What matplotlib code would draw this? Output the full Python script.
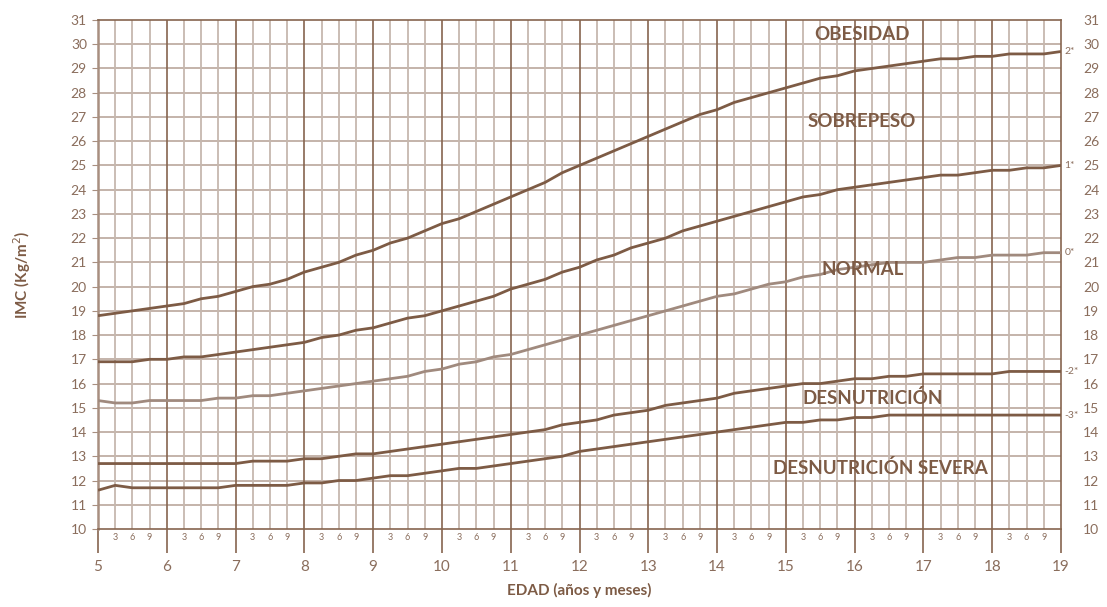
import numpy as np
import matplotlib
matplotlib.use("Agg")
import matplotlib.pyplot as plt
import matplotlib.transforms as mtransforms

plt.rcParams['font.family'] = ['Lato', 'DejaVu Sans']

# ---- data (IMC by age, quarterly from 5 to 19 years) ----
years = list(range(5, 20))
quarter_labels = ["3", "6", "9"]
ages = [5 + q / 4 for q in range(57)]

sd2 = [18.8, 18.9, 19.0, 19.1,
       19.2, 19.3, 19.5, 19.6,
       19.8, 20.0, 20.1, 20.3,
       20.6, 20.8, 21.0, 21.3,
       21.5, 21.8, 22.0, 22.3,
       22.6, 22.8, 23.1, 23.4,
       23.7, 24.0, 24.3, 24.7,
       25.0, 25.3, 25.6, 25.9,
       26.2, 26.5, 26.8, 27.1,
       27.3, 27.6, 27.8, 28.0,
       28.2, 28.4, 28.6, 28.7,
       28.9, 29.0, 29.1, 29.2,
       29.3, 29.4, 29.4, 29.5,
       29.5, 29.6, 29.6, 29.6,
       29.7]
sd1 = [16.9, 16.9, 16.9, 17.0,
       17.0, 17.1, 17.1, 17.2,
       17.3, 17.4, 17.5, 17.6,
       17.7, 17.9, 18.0, 18.2,
       18.3, 18.5, 18.7, 18.8,
       19.0, 19.2, 19.4, 19.6,
       19.9, 20.1, 20.3, 20.6,
       20.8, 21.1, 21.3, 21.6,
       21.8, 22.0, 22.3, 22.5,
       22.7, 22.9, 23.1, 23.3,
       23.5, 23.7, 23.8, 24.0,
       24.1, 24.2, 24.3, 24.4,
       24.5, 24.6, 24.6, 24.7,
       24.8, 24.8, 24.9, 24.9,
       25.0]
sd0 = [15.3, 15.2, 15.2, 15.3,
       15.3, 15.3, 15.3, 15.4,
       15.4, 15.5, 15.5, 15.6,
       15.7, 15.8, 15.9, 16.0,
       16.1, 16.2, 16.3, 16.5,
       16.6, 16.8, 16.9, 17.1,
       17.2, 17.4, 17.6, 17.8,
       18.0, 18.2, 18.4, 18.6,
       18.8, 19.0, 19.2, 19.4,
       19.6, 19.7, 19.9, 20.1,
       20.2, 20.4, 20.5, 20.7,
       20.8, 20.9, 21.0, 21.0,
       21.0, 21.1, 21.2, 21.2,
       21.3, 21.3, 21.3, 21.4,
       21.4]
sdm2 = [12.7, 12.7, 12.7, 12.7,
        12.7, 12.7, 12.7, 12.7,
        12.7, 12.8, 12.8, 12.8,
        12.9, 12.9, 13.0, 13.1,
        13.1, 13.2, 13.3, 13.4,
        13.5, 13.6, 13.7, 13.8,
        13.9, 14.0, 14.1, 14.3,
        14.4, 14.5, 14.7, 14.8,
        14.9, 15.1, 15.2, 15.3,
        15.4, 15.6, 15.7, 15.8,
        15.9, 16.0, 16.0, 16.1,
        16.2, 16.2, 16.3, 16.3,
        16.4, 16.4, 16.4, 16.4,
        16.4, 16.5, 16.5, 16.5,
        16.5]
sdm3 = [11.6, 11.8, 11.7, 11.7,
        11.7, 11.7, 11.7, 11.7,
        11.8, 11.8, 11.8, 11.8,
        11.9, 11.9, 12.0, 12.0,
        12.1, 12.2, 12.2, 12.3,
        12.4, 12.5, 12.5, 12.6,
        12.7, 12.8, 12.9, 13.0,
        13.2, 13.3, 13.4, 13.5,
        13.6, 13.7, 13.8, 13.9,
        14.0, 14.1, 14.2, 14.3,
        14.4, 14.4, 14.5, 14.5,
        14.6, 14.6, 14.7, 14.7,
        14.7, 14.7, 14.7, 14.7,
        14.7, 14.7, 14.7, 14.7,
        14.7]
curve_labels = ["2*", "1*", "0*", "-2*", "-3*"]
zone_labels = ["OBESIDAD", "SOBREPESO", "NORMAL", "DESNUTRICIÓN", "DESNUTRICIÓN SEVERA"]
zone_pos = [(16.1, 30.4), (16.1, 26.8), (16.12, 20.7), (16.26, 15.4), (16.37, 12.5)]
yticks = list(range(10, 32))

# ---- styles ----
dark = "#7d5b45"
light_curve = "#a08a7e"
grid_h = "#bfaea4"
grid_v = "#c6b8af"
year_col = "#86654f"
text_col = "#8a6d5c"

fig = plt.figure(figsize=(11.07, 6.07), dpi=100)
ax = fig.add_axes([98 / 1107, 78 / 607, 963 / 1107, 509 / 607])
ax.set_xlim(5, 19)
ax.set_ylim(10, 31)

# grid
for v in yticks[1:-1]:
    ax.axhline(v, color=grid_h, lw=1.3, zorder=1)
for a in ages:
    if abs(a - round(a)) > 1e-9:
        ax.axvline(a, color=grid_v, lw=1.3, zorder=1)
for y in years[1:-1]:
    ax.axvline(y, color=year_col, lw=1.2, zorder=1.5)

# curves
series = [sd2, sd1, sd0, sdm2, sdm3]
colors = [dark, dark, light_curve, dark, dark]
for s, c, lab in zip(series, colors, curve_labels):
    ax.plot(ages, s, color=c, lw=2.0, zorder=3, solid_capstyle='butt')
    ax.text(19.05, s[-1], lab, color=text_col, fontsize=7.5, va='center', ha='left',
            clip_on=False)

for lab, (xx, yy) in zip(zone_labels, zone_pos):
    ax.text(xx, yy, lab, color=dark, fontsize=13.5, fontweight='bold', ha='center',
            va='center', zorder=4)

# spines
for sp in ['top', 'bottom', 'right']:
    ax.spines[sp].set_color(year_col)
    ax.spines[sp].set_linewidth(1.2)
ax.spines['left'].set_color("#a88f80")
ax.spines['left'].set_linewidth(1.8)

# ticks
ax.set_yticks(yticks)
ax.set_yticklabels([str(v) for v in yticks])
ax.tick_params(axis='y', direction='out', length=4, color="#a88f80", labelcolor=text_col,
               labelsize=10, pad=4)
ax.set_xticks(years)
ax.set_xticklabels([str(y) for y in years])
ax.tick_params(axis='x', direction='out', length=17, width=1.2, color=year_col,
               labelcolor=text_col, labelsize=11, pad=5)

trans = mtransforms.blended_transform_factory(ax.transData, ax.transAxes)
for y in years[:-1]:
    for k, ql in enumerate(quarter_labels):
        ax.text(y + (k + 1) / 4, -0.017, ql, transform=trans, ha='center', va='center',
                fontsize=6.5, color=text_col)

ax2 = ax.twinx()
ax2.set_ylim(10, 31)
ax2.set_yticks(yticks)
ax2.set_yticklabels([str(v) for v in yticks])
ax2.tick_params(axis='y', length=0, labelcolor=text_col, labelsize=10, pad=16)
for sp in ax2.spines.values():
    sp.set_visible(False)

ax.set_xlabel("EDAD (años y meses)", color=dark, fontsize=11, fontweight='bold', labelpad=7)
ax.set_ylabel("IMC (Kg/m$^{2}$)", color=dark, fontsize=11, fontweight='bold', labelpad=27)

fig.savefig("out.png", dpi=100)
